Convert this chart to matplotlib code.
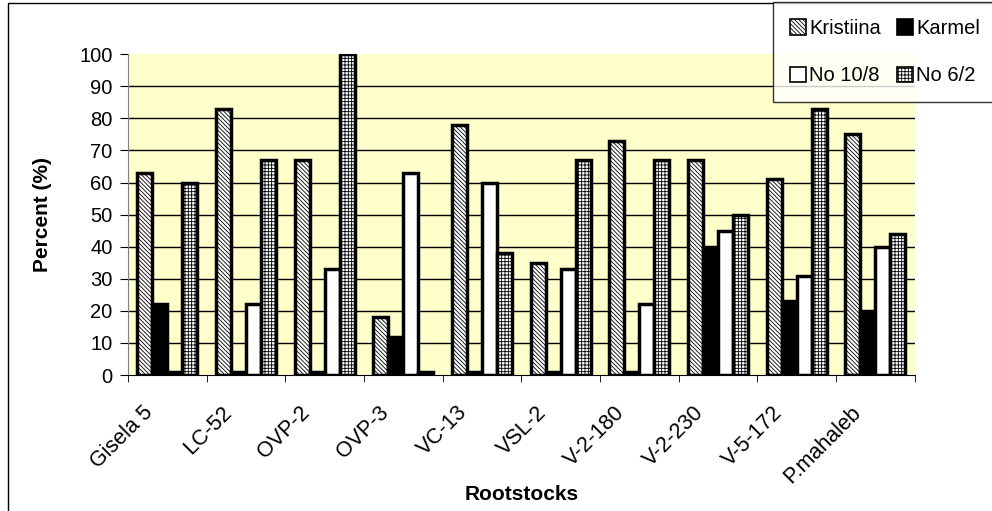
import numpy as np
import matplotlib
matplotlib.use('Agg')
from matplotlib import pyplot as plt
from matplotlib.patches import Rectangle
from matplotlib.transforms import ScaledTranslation

plt.rcParams['font.family'] = ['Liberation Sans', 'DejaVu Sans']
plt.rcParams['hatch.linewidth'] = 0.6

rootstocks = ['Gisela 5', 'LC-52', 'OVP-2', 'OVP-3', 'VC-13', 'VSL-2',
              'V-2-180', 'V-2-230', 'V-5-172', 'P.mahaleb']
kristiina = [63, 83, 67, 18, 78, 35, 73, 67, 61, 75]
karmel = [22, 1, 1, 12, 1, 1, 1, 40, 23, 20]
no_10_8 = [1, 22, 33, 63, 60, 33, 22, 45, 31, 40]
no_6_2 = [60, 67, 100, 1, 38, 67, 67, 50, 83, 44]

series = [('Kristiina', kristiina, 'white', '\\\\\\\\\\\\\\\\'),
          ('Karmel', karmel, 'black', None),
          ('No 10/8', no_10_8, 'white', None),
          ('No 6/2', no_6_2, 'white', '+++++')]

fs = 14.5

fig = plt.figure(figsize=(9.92, 5.11), dpi=100)
ax = fig.add_axes([0.129, 0.266, 0.793, 0.628])
ax.set_facecolor('#ffffcc')

x = np.arange(len(rootstocks))
w = 0.19
handles = {}
for i, (name, vals, fc, hatch) in enumerate(series):
    b = ax.bar(x + (i - 1.5) * w, vals, w, color=fc, edgecolor='black',
               linewidth=2.5, hatch=hatch, label=name, zorder=3)
    handles[name] = b

ax.set_xlim(-0.5, len(rootstocks) - 0.5)
ax.set_ylim(0, 100)
ax.set_yticks(np.arange(0, 101, 10))
ax.set_xticks(x)
ax.set_xticklabels(rootstocks, rotation=45, ha='right', rotation_mode='anchor', fontsize=15.5)
ax.set_xticks(np.arange(-0.5, len(rootstocks), 1), minor=True)
ax.tick_params(axis='x', which='major', length=0, pad=10)
ax.tick_params(axis='x', which='minor', length=5, direction='out')
ax.tick_params(axis='y', labelsize=fs, length=6, direction='out', pad=5)
# shift the slanted labels down-left like the original
offset = ScaledTranslation(-25 / 100, -13 / 100, fig.dpi_scale_trans)
for lab in ax.get_xticklabels():
    lab.set_transform(lab.get_transform() + offset)
for yv in range(10, 100, 10):
    ax.axhline(yv, color='black', linewidth=1, zorder=1)
for s in ['top', 'right']:
    ax.spines[s].set_visible(False)
ax.spines['left'].set_color('#808080')
ax.spines['bottom'].set_color('black')

ax.set_xlabel('Rootstocks', fontsize=15, fontweight='bold')
ax.xaxis.set_label_coords(0.5, -0.343)
ax.set_ylabel('Percent (%)', fontsize=15, fontweight='bold', labelpad=20)

order = ['Kristiina', 'No 10/8', 'Karmel', 'No 6/2']
leg = fig.legend([handles[n] for n in order], order, ncol=2,
                 loc='upper left', bbox_to_anchor=(773 / 992, 1 - 2 / 511),
                 fontsize=fs, frameon=True, fancybox=False, edgecolor='black',
                 handlelength=0.8, handleheight=0.8, handletextpad=0.15,
                 columnspacing=0.8, labelspacing=1.4, borderpad=0.85,
                 borderaxespad=0)
leg.get_frame().set_linewidth(1.0)
for p in leg.get_patches():
    p.set_linewidth(1.2)

fig.patches.append(Rectangle((8 / 992, -0.1), 1.2, 1.1 - 3 / 511,
                             transform=fig.transFigure, fill=False,
                             edgecolor='black', linewidth=1))

fig.savefig('out.png', dpi=100)
